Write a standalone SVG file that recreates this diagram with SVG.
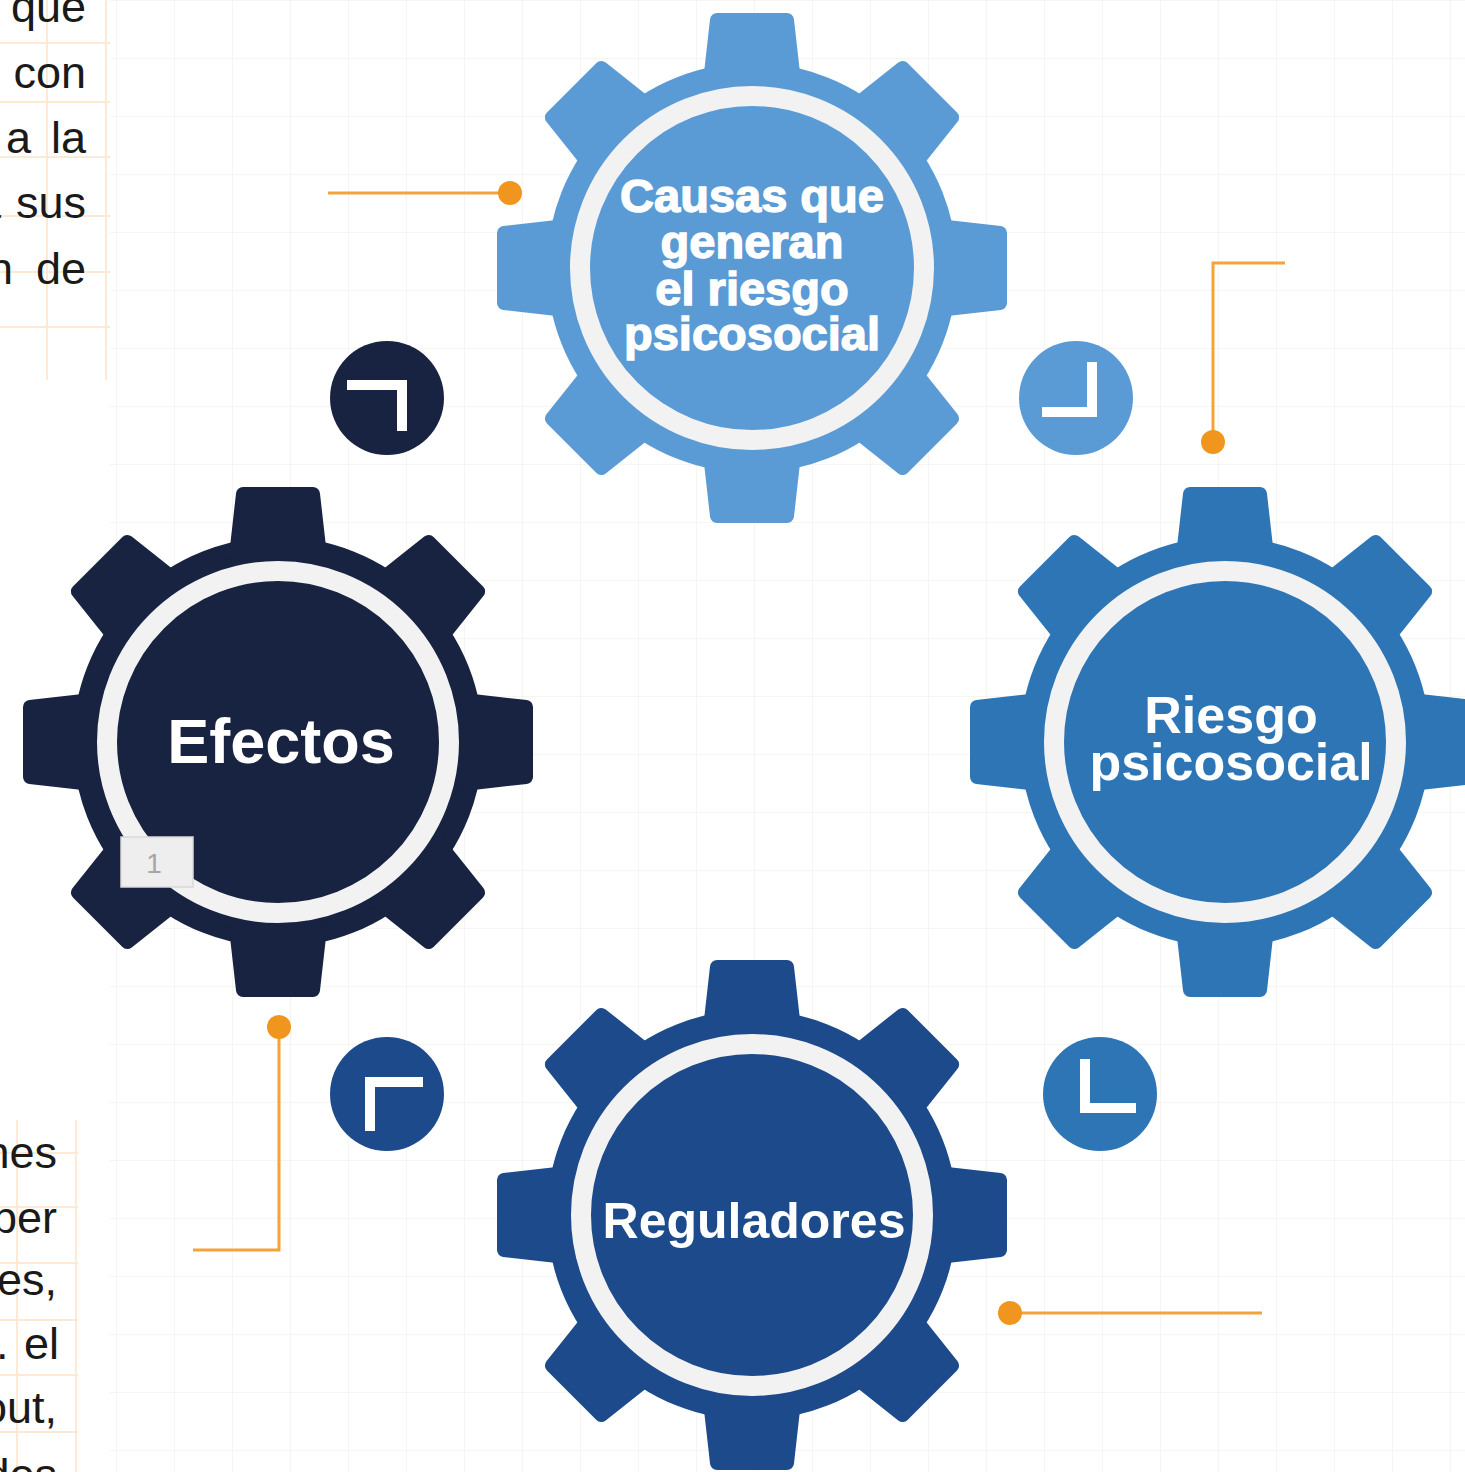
<svg xmlns="http://www.w3.org/2000/svg" xmlns:xlink="http://www.w3.org/1999/xlink" width="1465" height="1472" viewBox="0 0 1465 1472">
  <style>
    .gear { stroke-width: 14; stroke-linejoin: round; }
    .ring { stroke: #f2f2f2; stroke-width: 20; }
    .label { font-family: "Liberation Sans", Arial, sans-serif; font-weight: bold; fill: #ffffff; text-anchor: middle; }
    .doc { font-family: "Liberation Sans", Arial, sans-serif; font-size: 45px; fill: #1a1a1a; }
    .tline { stroke: #fde9d4; stroke-width: 2; fill: none; }
    .conn { stroke: #f2a33a; stroke-width: 3; fill: none; }
    .dot { fill: #f0961e; }
    .arrow { stroke: #ffffff; stroke-width: 10; fill: none; stroke-linecap: square; stroke-linejoin: miter; }
  </style>
  <defs>
    <pattern id="bggrid" width="58" height="58" patternUnits="userSpaceOnUse">
      <path d="M58,0 L0,0 L0,58" fill="none" stroke="#f4f2ee" stroke-width="1.5"/>
    </pattern>
    <path id="tooth" d="M-42,-186 L-35,-248 L35,-248 L42,-186 Z"/>
    <g id="gear">
      <circle r="198"/>
      <use xlink:href="#tooth"/>
      <use xlink:href="#tooth" transform="rotate(45)"/>
      <use xlink:href="#tooth" transform="rotate(90)"/>
      <use xlink:href="#tooth" transform="rotate(135)"/>
      <use xlink:href="#tooth" transform="rotate(180)"/>
      <use xlink:href="#tooth" transform="rotate(225)"/>
      <use xlink:href="#tooth" transform="rotate(270)"/>
      <use xlink:href="#tooth" transform="rotate(315)"/>
    </g>
  </defs>

  <rect width="1465" height="1472" fill="#ffffff"/>
  <rect x="110" y="0" width="1355" height="1472" fill="url(#bggrid)"/>

  <!-- document text fragments, top left -->
  <g id="doc-top">
    <path class="tline" d="M0,43 H110 M0,102 H110 M0,157 H110 M0,216 H110 M0,272 H110 M0,327 H110 M47,0 V380 M106,0 V380"/>
    <text class="doc" x="86" y="22" text-anchor="end">que</text>
    <text class="doc" x="86" y="88" text-anchor="end">con</text>
    <text class="doc" y="153"><tspan x="6">a</tspan><tspan x="51">la</tspan></text>
    <text class="doc" y="218"><tspan x="-24">a</tspan><tspan x="16">sus</tspan></text>
    <text class="doc" y="284"><tspan x="-12">n</tspan><tspan x="36">de</tspan></text>
  </g>

  <!-- document text fragments, bottom left -->
  <g id="doc-bottom">
    <path class="tline" d="M0,1153 H78 M0,1207 H78 M0,1263 H78 M0,1320 H78 M0,1375 H78 M0,1432 H78 M17,1120 V1472 M76,1120 V1472"/>
    <text class="doc" x="57" y="1168" text-anchor="end">nes</text>
    <text class="doc" x="57" y="1233" text-anchor="end">ber</text>
    <text class="doc" x="57" y="1295" text-anchor="end">les,</text>
    <text class="doc" y="1359"><tspan x="-4">.</tspan><tspan x="24">el</tspan></text>
    <text class="doc" x="57" y="1423" text-anchor="end">out,</text>
    <text class="doc" x="57" y="1490" text-anchor="end">dos</text>
  </g>

  <!-- connectors -->
  <g id="connectors">
    <path class="conn" d="M328,193 H510"/>
    <circle class="dot" cx="510" cy="193" r="12"/>
    <path class="conn" d="M1285,263 H1213 V440"/>
    <circle class="dot" cx="1213" cy="442" r="12"/>
    <path class="conn" d="M279,1027 V1250 H193"/>
    <circle class="dot" cx="279" cy="1027" r="12"/>
    <path class="conn" d="M1010,1313 H1262"/>
    <circle class="dot" cx="1010" cy="1313" r="12"/>
  </g>

  <!-- arrow badges -->
  <g id="arrow-tl">
    <circle cx="387" cy="398" r="57" fill="#172340"/>
    <path class="arrow" d="M352,385 H402 V426"/>
  </g>
  <g id="arrow-tr">
    <circle cx="1076" cy="398" r="57" fill="#5b9bd5"/>
    <path class="arrow" d="M1092,367 V412 H1047"/>
  </g>
  <g id="arrow-bl">
    <circle cx="387" cy="1094" r="57" fill="#1d4a8a"/>
    <path class="arrow" d="M418,1082 H370 V1126"/>
  </g>
  <g id="arrow-br">
    <circle cx="1100" cy="1094" r="57" fill="#2e75b6"/>
    <path class="arrow" d="M1085,1064 V1108 H1131"/>
  </g>

  <!-- gear: Causas -->
  <g id="node-causas" transform="translate(752,268)">
    <use xlink:href="#gear" class="gear" fill="#5b9bd5" stroke="#5b9bd5"/>
    <circle class="ring" r="172" fill="#5b9bd5"/>
    <g class="label" font-size="47" stroke="#ffffff" stroke-width="1.4">
      <text x="0" y="-56">Causas que</text>
      <text x="0" y="-10">generan</text>
      <text x="0" y="37">el riesgo</text>
      <text x="0" y="82">psicosocial</text>
    </g>
  </g>

  <!-- gear: Efectos -->
  <g id="node-efectos" transform="translate(278,742)">
    <use xlink:href="#gear" class="gear" fill="#172340" stroke="#172340"/>
    <circle class="ring" r="171" fill="#172340"/>
    <text class="label" x="3" y="21" font-size="63">Efectos</text>
    <rect x="-157" y="95" width="72" height="50" fill="#eeeeee" stroke="#d9d9d9" stroke-width="1.5"/>
    <text x="-124" y="131" font-family="Liberation Sans, Arial, sans-serif" font-size="28" fill="#a6a6a6" text-anchor="middle">1</text>
  </g>

  <!-- gear: Riesgo psicosocial -->
  <g id="node-riesgo" transform="translate(1225,742)">
    <use xlink:href="#gear" class="gear" fill="#2e75b6" stroke="#2e75b6"/>
    <circle class="ring" r="171" fill="#2e75b6"/>
    <g class="label" font-size="52">
      <text x="6" y="-9">Riesgo</text>
      <text x="6" y="38">psicosocial</text>
    </g>
  </g>

  <!-- gear: Reguladores -->
  <g id="node-reguladores" transform="translate(752,1215)">
    <use xlink:href="#gear" class="gear" fill="#1d4a8a" stroke="#1d4a8a"/>
    <circle class="ring" r="171" fill="#1d4a8a"/>
    <text class="label" x="2" y="23" font-size="50">Reguladores</text>
  </g>
</svg>
